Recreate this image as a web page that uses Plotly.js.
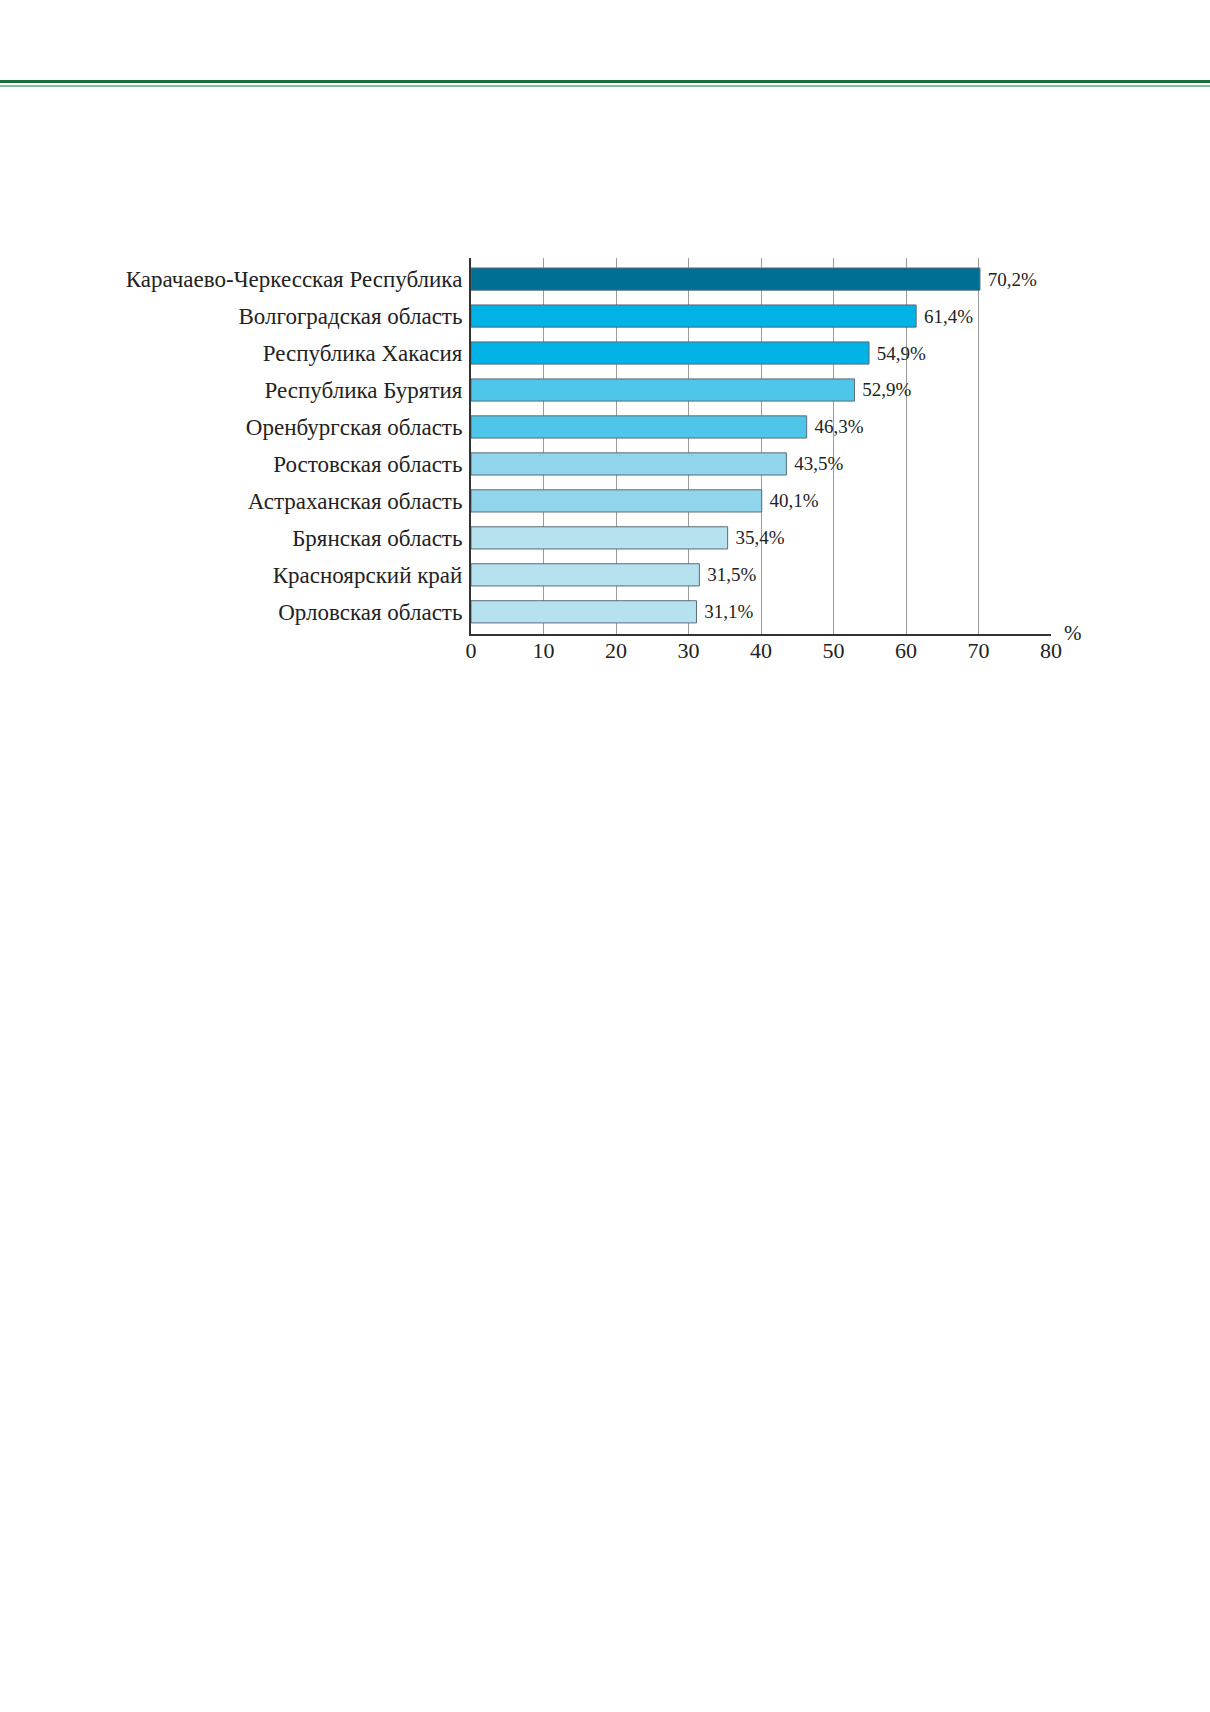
<!DOCTYPE html>
<html>
<head>
<meta charset="utf-8">
<script src="https://cdn.plot.ly/plotly-3.0.1.min.js"></script>
<style>
  body { margin: 0; background: #fff; }
  #myDiv { position: absolute; left: 0; top: 0; width: 1210px; height: 1712px; }
  .rule1 { position: absolute; left: 0; width: 1210px; top: 80px; height: 3px; background: #1b6e3c; z-index: 2; }
  .rule2 { position: absolute; left: 0; width: 1210px; top: 85px; height: 2px; background: #86bf9a; z-index: 2; }
</style>
</head>
<body>
<div id="myDiv"></div>
<div class="rule1"></div>
<div class="rule2"></div>
<script>
var regions = [
  'Карачаево-Черкесская Республика',
  'Волгоградская область',
  'Республика Хакасия',
  'Республика Бурятия',
  'Оренбургская область',
  'Ростовская область',
  'Астраханская область',
  'Брянская область',
  'Красноярский край',
  'Орловская область'
]
var shares = [70.2, 61.4, 54.9, 52.9, 46.3, 43.5, 40.1, 35.4, 31.5, 31.1]
var barColors = ['#006f94', '#00b2e6', '#00b2e6', '#4ec6ea', '#4ec6ea',
                 '#90d5ec', '#90d5ec', '#b6e2f0', '#b6e2f0', '#b6e2f0']
var xTicks = [0, 10, 20, 30, 40, 50, 60, 70, 80]

var serif = 'Liberation Serif, Times New Roman, serif'

var trace1 = {
  x: shares,
  y: regions,
  type: 'bar',
  orientation: 'h',
  marker: { color: barColors, line: { color: '#5a6a78', width: 1 } },
  // nbsp gives the small gap between bar end and label
  texttemplate: '\u00a0%{x:.1f}%',
  textposition: 'outside',
  textfont: { family: serif, size: 19, color: '#222' },
  cliponaxis: false,
  hoverinfo: 'none'
}

var layout = {
  width: 1210,
  height: 1712,
  margin: { l: 471, r: 159, t: 258, b: 1078 },
  paper_bgcolor: '#fff',
  plot_bgcolor: '#fff',
  separators: ', ',
  showlegend: false,
  bargap: 0.4,
  font: { family: serif, size: 20, color: '#222' },
  xaxis: {
    range: [0, 80],
    tickvals: xTicks,
    ticktext: xTicks.map(String),
    showgrid: true,
    gridcolor: '#9a9a9a',
    gridwidth: 1,
    zeroline: false,
    showline: true,
    linecolor: '#333',
    linewidth: 2,
    ticks: '',
    ticklabelstandoff: -4,
    tickfont: { family: serif, size: 22, color: '#222' },
    fixedrange: true
  },
  yaxis: {
    type: 'category',
    range: [9.6, -0.57],
    showline: true,
    linecolor: '#333',
    linewidth: 2,
    showgrid: false,
    zeroline: false,
    ticks: '',
    ticklabelstandoff: 2,
    tickfont: { family: serif, size: 23, color: '#222' },
    fixedrange: true
  },
  annotations: [{
    xref: 'x', yref: 'paper',
    x: 80, y: 0,
    xanchor: 'left', yanchor: 'middle',
    xshift: 11, yshift: 1,
    text: '%',
    showarrow: false,
    font: { family: serif, size: 21, color: '#222' }
  }]
}

Plotly.newPlot('myDiv', [trace1], layout, { displayModeBar: false, staticPlot: true })
</script>
</body>
</html>
